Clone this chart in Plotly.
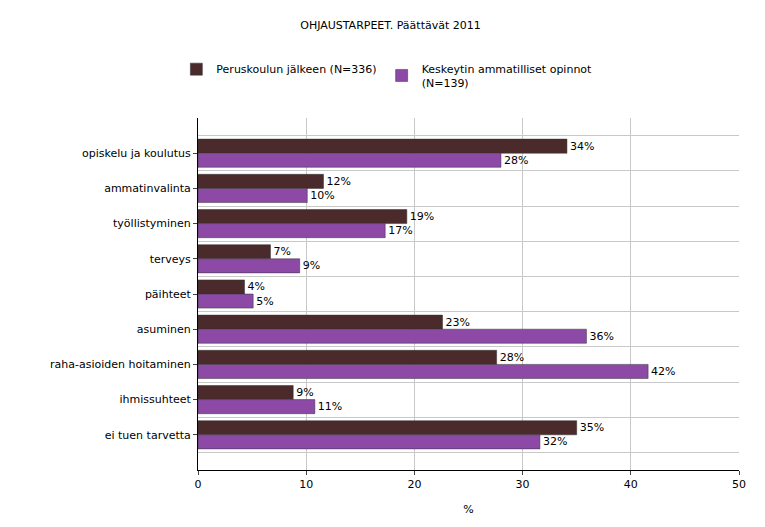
import plotly.graph_objects as go

categories = ["opiskelu ja koulutus", "ammatinvalinta", "työllistyminen", "terveys", "päihteet",
              "asuminen", "raha-asioiden hoitaminen", "ihmissuhteet", "ei tuen tarvetta"]
peruskoulu = [34.1, 11.6, 19.3, 6.7, 4.3, 22.6, 27.6, 8.8, 35.0]
keskeytin = [28.0, 10.1, 17.3, 9.4, 5.1, 35.9, 41.6, 10.8, 31.6]
series_names = ["Peruskoulun jälkeen (N=336)", "Keskeytin ammatilliset opinnot<br>(N=139)"]
x_ticks = [0, 10, 20, 30, 40, 50]

ypos = list(range(len(categories)))

fig = go.Figure()
for name, vals, col in [(series_names[0], peruskoulu, "#4b2a2c"), (series_names[1], keskeytin, "#8c4aa6")]:
    fig.add_trace(go.Bar(
        y=ypos, x=vals, orientation="h", name=name,
        marker=dict(color=col, line=dict(color="#333333", width=0.5)),
        text=["%d%%" % round(v) for v in vals], textposition="outside",
        textfont=dict(size=11, color="black"), cliponaxis=False,
    ))

fig.update_layout(
    width=765, height=527,
    barmode="group", bargap=0.2, bargroupgap=0,
    plot_bgcolor="white", paper_bgcolor="white",
    font=dict(family="DejaVu Sans", size=11, color="black"),
    title=dict(text="OHJAUSTARPEET. Päättävät 2011", x=0.5, xanchor="center",
               y=0.975, yanchor="top", font=dict(size=11)),
    legend=dict(orientation="h", x=-0.04, y=1.18, xanchor="left", yanchor="top", font=dict(size=11),
                traceorder="normal"),
    margin=dict(l=190, r=34, t=110, b=65, autoexpand=False),
    xaxis=dict(range=[0, 50], tickvals=x_ticks, showgrid=True, gridcolor="#c8c8c8", automargin=False,
               showline=True, linecolor="black", ticks="outside", ticklen=4, zeroline=False,
               title=dict(text="%", font=dict(size=11), standoff=15)),
    yaxis=dict(range=[9, -1], tickvals=ypos, ticktext=categories, showgrid=False, automargin=False,
               showline=True, linecolor="black", ticks="outside", ticklen=4, zeroline=False,
               minor=dict(tick0=0.5, dtick=1, showgrid=True, gridcolor="#c8c8c8")),
)

fig.write_html("out.html")
